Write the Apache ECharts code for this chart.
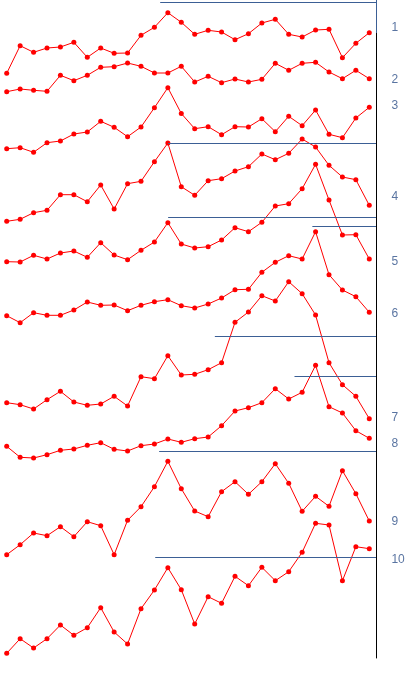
<!DOCTYPE html>
<html>
<head>
<meta charset="utf-8">
<script src="https://cdn.jsdelivr.net/npm/echarts@6/dist/echarts.min.js"></script>
<style>html,body{margin:0;padding:0;background:#fff;}#c{width:410px;height:700px;}</style>
</head>
<body>
<div id="c"></div>
<script>
const seriesNames = ['1','2','3','4','5','6','7','8','9','10'];
const s1 = [584.7,612.3,605.7,610,611,615.7,600.7,610,604.7,605,622.7,630.7,645.3,635.7,623.7,627.7,626,618.3,624.3,635,638.7,623.7,621,628,628.7,600.3,614.7,625.3];
const s2 = [566.3,569,567.7,566.7,582.7,577.3,582.7,590.7,591.3,595,591.7,585,585,591.7,576,581.7,575.3,579,576,578.7,594.7,587.7,594.7,595.7,586,579.3,587.7,579.3];
const s3 = [509.3,510.3,505.7,515.3,517,524,526,536.7,530.7,521.3,531,550.3,570.3,544.5,529.3,531.3,523.3,531.3,531,539.3,526.3,541.7,532.3,548,523.7,520.3,540,550.7];
const s4 = [436.7,438.7,445.3,447.7,463.3,463.3,456.3,473,449,474.3,476.7,496.3,515,471.3,462.7,477.3,479.3,487,491.3,504,498.3,504.7,519,511,492.7,481,478.3,452.7];
const s5 = [396.3,396,402.7,399,405,407,400.7,415.3,403,398.3,407.7,416,435.3,414,410,411.3,418,430.3,426.3,435.7,452,454.3,469.3,493.7,458,423,423.3,399];
const s6 = [342.3,335.3,345.3,342.7,342.7,348,356,352.7,353,347.3,352.7,356.3,358.3,352.3,350,354,360,368.3,368.7,385.7,395.7,402.3,399,426.3,383.3,368,361.3,345.7];
const s7 = [255.3,253.3,249,258.3,266.7,256,252.7,254,261.7,252,281.3,279.3,302.3,283,283.7,288.3,295.3,335.7,346,362.3,357,376.3,364.3,343,295.3,273.3,261.7,239.3];
const s8 = [211.7,200.7,200,203.3,207.7,209,212.7,215.3,208.7,207,212.3,214,219,215.7,219.3,221,232.3,247,250.3,255.3,269.3,259,265.7,292.7,251.3,245,227.3,219.7];
const s9 = [103.3,113.3,125,122.3,131.3,121.3,136.3,132.3,103.3,137.7,151.3,171.3,196.7,169.3,147,141.3,166.3,176.3,163.7,176.3,194.3,174.7,146.7,161.7,151.7,187.3,164.3,137];
const s10 = [4.7,19.3,10,19.3,33,22.7,30.3,50.3,26,14,49.3,68,90.3,68.3,34,61.3,54.7,81.7,72.3,90.7,77.3,86.3,105.7,134.7,133,77.3,111.3,109.3];
const allSeries = [s1,s2,s3,s4,s5,s6,s7,s8,s9,s10];
// level at which each series name is written on the right
const labelLevels = [630.8,578.5,552,461,396.7,344,240.5,214.5,136,98];
// reference lines: [start index, level]
const refStarts = [11.43,12.02,12.02,22.76,15.5,21.43,11.35,11.06];
const refLevels = [656,514.7,440.7,431.7,321.7,282,207,100.7];

const blue = '#3b5f95';
const series = allSeries.map((vals, k) => ({
  name: seriesNames[k],
  type: 'line',
  data: vals.map((v, i) => [i, v]),
  symbol: 'circle',
  symbolSize: 5,
  showAllSymbol: true,
  lineStyle: {color: '#ff0000', width: 1},
  itemStyle: {color: '#ff0000'},
  z: 3
}));
const refData = refStarts.map((s, i) => [{coord: [s, refLevels[i]]}, {coord: [27.5, refLevels[i]]}]);
refData.push([{coord: [27.5, 658]}, {coord: [27.5, 625]}]);
series.push({
  type: 'line',
  data: [],
  markLine: {silent: true, symbol: 'none', label: {show: false},
    lineStyle: {color: blue, width: 1, type: 'solid'}, data: refData},
  z: 2
});
series.push({
  type: 'scatter',
  data: labelLevels.map((v, i) => ({value: [28.65, v], name: seriesNames[i]})),
  symbolSize: 0,
  clip: false,
  silent: true,
  label: {show: true, position: 'right', distance: 0, formatter: p => p.name,
    color: '#2f5189', fontSize: 12, fontFamily: 'Liberation Sans'},
  z: 2
});
const chart = echarts.init(document.getElementById('c'));
chart.setOption({
  animation: false,
  backgroundColor: '#fff',
  grid: {left: -2, right: 34, top: 0, bottom: 42},
  xAxis: {type: 'value', min: -0.5, max: 27.5, show: false},
  yAxis: {type: 'value', min: 0, max: 658, position: 'right',
    axisLine: {show: true, onZero: false, lineStyle: {color: '#000', width: 1}},
    axisTick: {show: false}, axisLabel: {show: false}, splitLine: {show: false}},
  series: series
});
</script>
</body>
</html>
